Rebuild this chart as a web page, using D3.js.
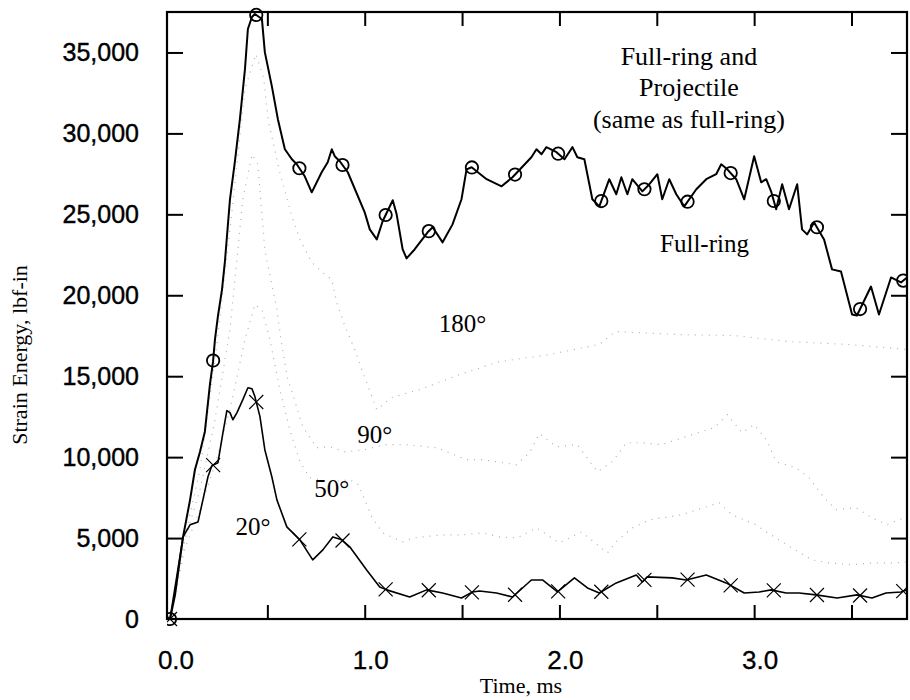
<!DOCTYPE html>
<html><head><meta charset="utf-8">
<script src="https://cdn.jsdelivr.net/npm/d3@7"></script>
<style>body{margin:0;background:#fff}</style>
</head><body><svg id="c" width="910" height="700"></svg>
<script>
// ---------- data ----------
const xTickValues = [0, 0.5, 1, 1.5, 2, 2.5, 3, 3.5];
const xLabelValues = [0, 1, 2, 3];
const yTickValues = [0, 5000, 10000, 15000, 20000, 25000, 30000, 35000];
const markerStep = 0.2215;

const fullRing = [[0,0],[0.026,1500],[0.067,5070],[0.103,7360],[0.128,9220],[0.154,10330],[0.179,11570],[0.205,14480],[0.221,15900],[0.231,17270],[0.246,18690],[0.267,20350],[0.282,22080],[0.308,25930],[0.333,28220],[0.359,30880],[0.385,33970],[0.400,36450],[0.421,37190],[0.436,37380],[0.472,37070],[0.487,35020],[0.523,32920],[0.554,30880],[0.590,29020],[0.626,28400],[0.651,28090],[0.692,27350],[0.728,26360],[0.779,27600],[0.810,28220],[0.831,29020],[0.846,28590],[0.872,28280],[0.913,27600],[1.000,25120],[1.026,24070],[1.062,23450],[1.092,24570],[1.144,25870],[1.164,25000],[1.195,22830],[1.215,22280],[1.256,22830],[1.323,23890],[1.349,24200],[1.400,23270],[1.451,24380],[1.497,25930],[1.523,27780],[1.549,27910],[1.626,27170],[1.703,26730],[1.759,27290],[1.856,28530],[1.882,29020],[1.908,28710],[1.933,29150],[1.985,28840],[2.026,28400],[2.067,29150],[2.092,28530],[2.128,28400],[2.169,25930],[2.205,25490],[2.256,27170],[2.292,26240],[2.318,27290],[2.349,26240],[2.374,27170],[2.426,26420],[2.462,26860],[2.503,27480],[2.528,25930],[2.564,27170],[2.600,26240],[2.641,25490],[2.703,26550],[2.754,27170],[2.805,27480],[2.831,28090],[2.862,27780],[2.908,27170],[2.949,25930],[3.000,28590],[3.036,26980],[3.062,27170],[3.087,26420],[3.113,25310],[3.144,26860],[3.179,25310],[3.221,26860],[3.246,24070],[3.272,23760],[3.308,24500],[3.359,23450],[3.400,21600],[3.446,21470],[3.503,18810],[3.528,18750],[3.600,20540],[3.641,18810],[3.703,21100],[3.754,20790],[3.785,21100]];

const deg20 = [[0,0],[0.067,5070],[0.103,5820],[0.144,6000],[0.169,7360],[0.195,8790],[0.215,9470],[0.246,9650],[0.272,11510],[0.292,12870],[0.308,12750],[0.323,12310],[0.344,12750],[0.374,13550],[0.400,14290],[0.421,14230],[0.436,13740],[0.462,12500],[0.487,10460],[0.523,8790],[0.549,7360],[0.600,5690],[0.667,4890],[0.733,3650],[0.785,4270],[0.836,5070],[0.882,4890],[0.923,4460],[1.010,3030],[1.077,1980],[1.113,1800],[1.231,1360],[1.318,1800],[1.400,1610],[1.497,1300],[1.554,1670],[1.590,1730],[1.677,1610],[1.759,1360],[1.856,2410],[1.913,2410],[1.990,1670],[2.077,2540],[2.144,1920],[2.205,1610],[2.292,2230],[2.395,2720],[2.426,2290],[2.451,2600],[2.579,2540],[2.651,2410],[2.754,2720],[2.856,2230],[2.949,1610],[3.026,1670],[3.087,1800],[3.164,1610],[3.231,1610],[3.318,1490],[3.426,1300],[3.528,1490],[3.605,1300],[3.677,1610],[3.754,1670],[3.785,1800]];

const deg50 = [[0,0],[0.077,4390],[0.154,6750],[0.231,9530],[0.308,12930],[0.385,17270],[0.436,19430],[0.472,19120],[0.513,17270],[0.564,14170],[0.615,11700],[0.667,9720],[0.718,8730],[0.821,8480],[0.923,8600],[0.964,8350],[1.000,7360],[1.036,6310],[1.092,5320],[1.195,4770],[1.246,5010],[1.400,5200],[1.503,5200],[1.605,5320],[1.692,5070],[1.785,5010],[1.882,5630],[2.000,4700],[2.062,5070],[2.113,5380],[2.246,4080],[2.292,4770],[2.374,5630],[2.462,6130],[2.564,6310],[2.626,6440],[2.821,7180],[2.887,6440],[3.010,5820],[3.062,5380],[3.195,4390],[3.297,3650],[3.385,3470],[3.503,3340],[3.605,3470],[3.728,3470],[3.785,3530]];

const deg90 = [[0,0],[0.077,4890],[0.154,7980],[0.231,12310],[0.308,17880],[0.374,25930],[0.421,28710],[0.451,28090],[0.487,22830],[0.523,20670],[0.549,19120],[0.574,16960],[0.605,14790],[0.626,14050],[0.682,11880],[0.754,10580],[0.821,10640],[0.897,10330],[1.000,10460],[1.103,10770],[1.205,10770],[1.369,10580],[1.523,9840],[1.605,9840],[1.779,9530],[1.846,10270],[1.897,11450],[1.985,10640],[2.092,10770],[2.195,9100],[2.272,9720],[2.344,10890],[2.426,10890],[2.523,10770],[2.682,11390],[2.795,11820],[2.862,12620],[2.938,11510],[3.000,12010],[3.062,11080],[3.113,9720],[3.215,9340],[3.282,8730],[3.359,7490],[3.421,6750],[3.523,6870],[3.605,6250],[3.682,5820],[3.769,6250]];

const deg180 = [[0,0],[0.067,4580],[0.154,9220],[0.231,16030],[0.308,24070],[0.385,32740],[0.441,34900],[0.482,33350],[0.503,30880],[0.564,27600],[0.626,24880],[0.667,23450],[0.728,22030],[0.795,21290],[0.831,20980],[0.856,19550],[0.897,18130],[0.949,16650],[0.985,15410],[1.062,12930],[1.138,13680],[1.282,14170],[1.487,15100],[1.692,15900],[1.949,16340],[2.205,16960],[2.287,17760],[2.615,17570],[2.897,17510],[3.179,17140],[3.487,16960],[3.785,16650]];

const annotations = [
  {text:"Full-ring and", t:2.665, v:34250, size:26},
  {text:"Projectile", t:2.665, v:32280, size:26},
  {text:"(same as full-ring)", t:2.665, v:30330, size:26},
  {text:"Full-ring", t:2.745, v:22700, size:25},
  {text:"180°", t:1.502, v:17730, size:25},
  {text:"90°", t:1.051, v:10870, size:25},
  {text:"50°", t:0.831, v:7540, size:25},
  {text:"20°", t:0.426, v:5190, size:25}
];

// ---------- layout ----------
const svg = d3.select("#c");
const L = 167, R = 907, T = 12, B = 619;
const x = d3.scaleLinear().domain([-0.0154, 3.785]).range([L, R]);
const y = d3.scaleLinear().domain([0, 37500]).range([B, T]);

svg.append("clipPath").attr("id","pc").append("rect")
  .attr("x", L).attr("y", T - 8).attr("width", R - L).attr("height", B - T + 16);

const serif = "'Liberation Serif','Times New Roman',serif";
const sans = "'Liberation Sans',Arial,sans-serif";

// axes (ticks inward)
const axB = d3.axisBottom(x).tickValues(xTickValues).tickSize(-14).tickFormat("");
const axT = d3.axisTop(x).tickValues(xTickValues).tickSize(-14).tickFormat("");
const axLf = d3.axisLeft(y).tickValues(yTickValues).tickSize(-16).tickFormat("");
const axRt = d3.axisRight(y).tickValues(yTickValues).tickSize(-16).tickFormat("");
function styleAxis(g){ g.select(".domain").remove(); g.selectAll("line").attr("stroke","#000").attr("stroke-width",2); }
svg.append("g").attr("transform",`translate(0,${B})`).call(axB).call(styleAxis);
svg.append("g").attr("transform",`translate(0,${T})`).call(axT).call(styleAxis);
svg.append("g").attr("transform",`translate(${L},0)`).call(axLf).call(styleAxis);
svg.append("g").attr("transform",`translate(${R},0)`).call(axRt).call(styleAxis);
svg.selectAll(".tick").filter(d => d === 0).select("line").remove();

svg.append("rect").attr("x",L).attr("y",T).attr("width",R-L).attr("height",B-T)
  .attr("fill","none").attr("stroke","#000").attr("stroke-width",2.2);

// tick labels
const fmt = d3.format(",");
svg.append("g").selectAll("text").data(yTickValues).join("text")
  .attr("x", 139).attr("y", d => y(d)).attr("dy","0.36em")
  .attr("text-anchor","end").attr("font-family",sans).attr("font-size",25)
  .attr("stroke","#000").attr("stroke-width",0.4)
  .text(d => fmt(d));
svg.append("g").selectAll("text").data(xLabelValues).join("text")
  .attr("x", d => x(d) + 6).attr("y", 669)
  .attr("text-anchor","middle").attr("font-family",sans).attr("font-size",26)
  .attr("stroke","#000").attr("stroke-width",0.3)
  .text(d => d3.format(".1f")(d));

// axis titles
svg.append("text").attr("x", 521).attr("y", 693).attr("text-anchor","middle")
  .attr("font-family",serif).attr("font-size",22).text("Time, ms");
svg.append("text").attr("transform","translate(27,355) rotate(-90)").attr("text-anchor","middle")
  .attr("font-family",serif).attr("font-size",22).text("Strain Energy, lbf-in");

// curves
const line = d3.line().x(d => x(d[0])).y(d => y(d[1]));
const plot = svg.append("g").attr("clip-path","url(#pc)");
[deg180, deg90, deg50].forEach(s => {
  plot.append("path").datum(s).attr("d", line).attr("fill","none")
    .attr("stroke","#b0b0b0").attr("stroke-width",1.2).attr("stroke-dasharray","1 6");
});
plot.append("path").datum(deg20).attr("d", line).attr("fill","none")
  .attr("stroke","#000").attr("stroke-width",1.6).attr("stroke-linejoin","round");
plot.append("path").datum(fullRing).attr("d", line).attr("fill","none")
  .attr("stroke","#000").attr("stroke-width",2).attr("stroke-linejoin","round");

// markers
function interp(series, t){
  const i = d3.bisector(d => d[0]).left(series, t);
  if (i <= 0) return series[0][1];
  if (i >= series.length) return series[series.length-1][1];
  const a = series[i-1], b = series[i];
  return a[1] + (b[1]-a[1]) * (t - a[0]) / (b[0]-a[0]);
}
const markerTimes = d3.range(0, 3.785, markerStep);
plot.append("g").selectAll("circle").data(markerTimes).join("circle")
  .attr("cx", t => x(t)).attr("cy", t => y(interp(fullRing, t))).attr("r", 6.2)
  .attr("fill","none").attr("stroke","#000").attr("stroke-width",1.8);
plot.append("g").selectAll("path").data(markerTimes).join("path")
  .attr("d", t => { const cx = x(t), cy = y(interp(deg20, t)), s = 7;
    return `M${cx-s},${cy-s}L${cx+s},${cy+s}M${cx-s},${cy+s}L${cx+s},${cy-s}`; })
  .attr("stroke","#000").attr("stroke-width",1.2).attr("fill","none");

// annotations
svg.append("g").selectAll("text").data(annotations).join("text")
  .attr("x", d => x(d.t)).attr("y", d => y(d.v)).attr("text-anchor","middle")
  .attr("font-family",serif).attr("font-size", d => d.size).text(d => d.text);
</script></body></html>
